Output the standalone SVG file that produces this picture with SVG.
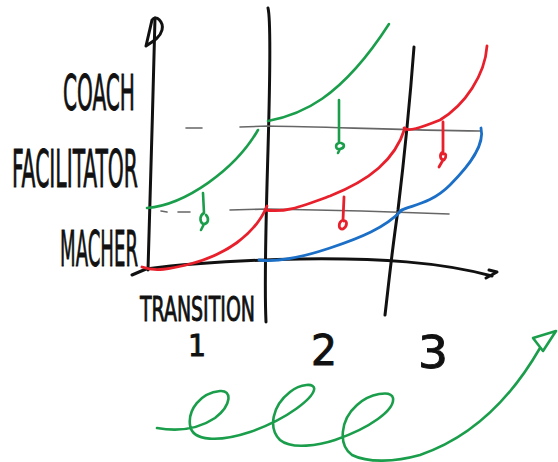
<svg xmlns="http://www.w3.org/2000/svg" width="558" height="462" viewBox="0 0 558 462">
<style>
.k{fill:none;stroke:#111;stroke-width:3;stroke-linecap:round;stroke-linejoin:round}
.g{fill:none;stroke:#1b9e4b;stroke-width:2.6;stroke-linecap:round;stroke-linejoin:round}
.r{fill:none;stroke:#e8202c;stroke-width:2.8;stroke-linecap:round;stroke-linejoin:round}
.b{fill:none;stroke:#1c6fc6;stroke-width:2.8;stroke-linecap:round;stroke-linejoin:round}
.h{fill:none;stroke:#666;stroke-width:1.6;stroke-linecap:round}
.t{font-family:"DejaVu Sans Condensed","DejaVu Sans",sans-serif;fill:#111;stroke:#111;stroke-width:0.9;font-weight:normal}
</style>
<rect width="558" height="462" fill="#fff"/>
<g id="axes">
<path class="k" d="M148 270 C150 200 153 100 155 18"/>
<path class="k" d="M146 46 L152 20 C156 14 164 22 162 30 C160 38 152 42 146 46"/>
<path class="k" d="M132 275 L146 269 C200 262 250 260 300 259 C380 258 440 262 492 276"/>
<path class="k" d="M486 278 L497 272 L489 270"/>
<path class="k" d="M268 8 C271 20 270 80 268 150 C266 220 264 280 266 322"/>
<path class="k" d="M414 47 C410 100 404 160 398 210 C392 250 388 290 385 315"/>
</g>
<g id="levels">
<path class="h" d="M186 128 L202 128 M240 127 L268 126 C330 127 400 130 480 131"/>
<path class="h" d="M161 211 L167 212 M178 212 L190 212 M230 210 L268 209 C330 210 400 212 449 214"/>
</g>
<g id="curves">
<path class="g" d="M147 208 C185 205 235 170 258 130"/>
<path class="g" d="M268 121 C300 115 340 100 389 24"/>
<path class="r" d="M142 267 C155 272 170 269 190 264 C225 255 255 235 267 206"/>
<path class="r" d="M265 210 C285 213 300 207 330 196 C370 180 395 160 405 128"/>
<path class="r" d="M404 128 C408 132 420 128 440 120 C465 105 485 75 487 46"/>
<path class="b" d="M259 260 C275 262 300 258 330 248 C360 238 385 228 402 210"/>
<path class="b" d="M400 211 C410 205 430 205 450 185 C470 165 485 145 481 128"/>
</g>
<g id="marks">
<path class="g" d="M203 193 L204 213 C200 215 199 221 203 224 C209 224 209 218 206 215 M204 224 L201 230"/>
<path class="g" d="M339 100 L339 143 C335 144 335 150 340 149 C345 148 345 144 341 143 M340 149 L338 153"/>
<path class="r" d="M344 197 L343 220 C338 222 338 230 343 229 C348 226 347 220 344 221"/>
<path class="r" d="M443 122 L443 152 C439 154 440 160 444 160 C447 157 446 152 443 154 M443 160 L439 167"/>
</g>
<g id="labels">
<text class="t" x="63" y="110" font-size="50" textLength="72" lengthAdjust="spacingAndGlyphs">COACH</text>
<text class="t" x="12" y="187" font-size="52" textLength="126" lengthAdjust="spacingAndGlyphs">FACILITATOR</text>
<text class="t" x="60" y="266" font-size="50" textLength="78" lengthAdjust="spacingAndGlyphs">MACHER</text>
<text class="t" x="140" y="321" font-size="34" textLength="115" lengthAdjust="spacingAndGlyphs">TRANSITION</text>
<text class="t" x="188" y="356" font-size="30" textLength="18" lengthAdjust="spacingAndGlyphs">1</text>
<text class="t" x="311" y="365" font-size="42" textLength="26" lengthAdjust="spacingAndGlyphs">2</text>
<text class="t" x="418" y="368" font-size="44" textLength="30" lengthAdjust="spacingAndGlyphs">3</text>
</g>
<g id="spiral">
<path class="g" d="M157 428 C180 432 200 428 215 418 C232 405 232 390 220 391 C200 393 188 410 190 425 C192 442 220 442 250 432 C290 418 312 398 314 390 C316 382 300 384 290 392 C272 406 268 428 280 440 C292 450 320 445 335 440 C370 428 395 410 393 398 C391 390 370 393 357 405 C340 420 338 445 352 455 C368 463 395 462 420 455 C470 438 510 400 540 348"/>
<path class="g" d="M533 338 L556 331 L543 351 Z"/>
</g>
</svg>
